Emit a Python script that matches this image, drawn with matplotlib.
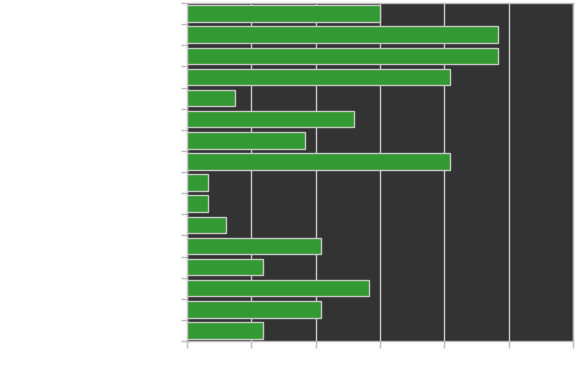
import matplotlib
matplotlib.use("Agg")
import matplotlib.pyplot as plt
import numpy as np

categories = [f"c{i}" for i in range(1, 17)]
values = [3.0, 4.84, 4.84, 4.09, 0.75, 2.59, 1.84, 4.09,
          0.33, 0.33, 0.6, 2.09, 1.18, 2.83, 2.09, 1.18]
x_ticks = [0, 1, 2, 3, 4, 5, 6]

fig = plt.figure(figsize=(5.87, 3.74), dpi=100)
ax = fig.add_axes([187/587, 33/374, 386/587, 338/374])
ax.set_facecolor("#333333")

pos = np.arange(len(categories))
ax.barh(pos, values, height=0.78, color="#339933", edgecolor="#c8c8c8",
        linewidth=1.0, zorder=3)

ax.set_xlim(0, 6)
ax.set_ylim(len(categories) - 0.5, -0.5)
ax.set_xticks(x_ticks)
ax.set_xticklabels([])
ax.set_yticks(np.arange(len(categories) + 1) - 0.5)
ax.set_yticklabels([])
ax.grid(axis="x", color="#cccccc", linewidth=1.0, zorder=1)
ax.set_axisbelow(True)
for s in ax.spines.values():
    s.set_color("#bbbbbb")
    s.set_linewidth(1.0)
ax.tick_params(axis="x", length=5, color="#bbbbbb", width=1)
ax.tick_params(axis="y", length=4, color="#bbbbbb", width=1)

fig.savefig("out.png", dpi=100)
